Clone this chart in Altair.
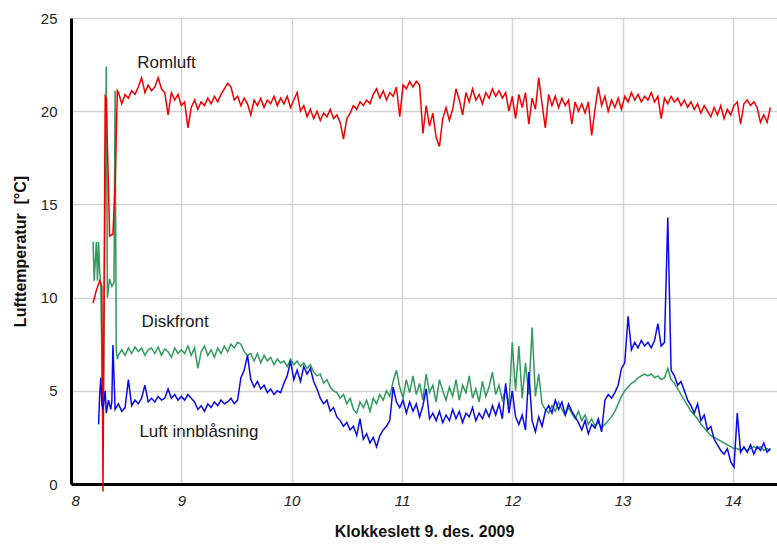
import altair as alt
import pandas as pd

# ---- main time grid (hours), step 0.03 h from 8.43 to 14.34 ----
grid_start = 8.43
grid_step = 0.03
n_grid = 198

# ---- early start-up segments (explicit times) ----
red_early_t = [8.20, 8.23, 8.26, 8.28, 8.29, 8.31, 8.32, 8.35, 8.38, 8.40, 8.42]
red_early_v = [9.7, 10.4, 10.9, 10.6, -0.4, 20.8, 20.7, 13.3, 13.4, 16.0, 21.1]

green_early_t = [8.20, 8.21, 8.23, 8.24, 8.25, 8.26, 8.27, 8.29, 8.32, 8.33, 8.35, 8.37, 8.39, 8.40, 8.41, 8.42]
green_early_v = [13.0, 10.9, 13.0, 10.9, 13.0, 11.4, 10.7, 2.5, 22.4, 10.0, 11.0, 10.6, 10.8, 21.1, 7.2, 6.7]

blue_early_t = [8.25, 8.26, 8.27, 8.28, 8.29, 8.31, 8.32, 8.34, 8.36, 8.37, 8.38, 8.40, 8.42]
blue_early_v = [3.2, 4.8, 5.7, 4.3, 4.0, 5.0, 3.8, 4.5, 4.0, 4.4, 7.45, 4.0, 4.2]

# ---- Romluft (red) ----
romluft = [
    21.0, 20.4, 20.9, 20.7, 21.1, 20.9, 21.3, 21.8, 21.0, 21.4,
    21.1, 21.3, 21.8, 21.2, 21.0, 19.8, 21.0, 20.6, 20.9, 20.3,
    20.5, 19.1, 20.2, 20.6, 20.1, 20.5, 20.3, 20.7, 20.4, 20.8,
    20.5, 20.9, 21.2, 21.5, 21.3, 20.6, 20.8, 20.3, 20.7, 20.4,
    19.8, 20.6, 20.3, 20.7, 20.2, 20.6, 20.4, 20.8, 20.3, 20.7,
    20.4, 20.8, 20.2, 20.6, 21.0, 20.0, 20.3, 19.7, 20.1, 19.6,
    20.0, 19.5, 19.9, 19.7, 20.1, 19.6, 19.8, 19.4, 18.5, 19.6,
    19.9, 20.3, 20.1, 20.5, 20.3, 20.6, 20.4, 20.9, 21.2, 20.7,
    21.1, 20.6, 21.0, 20.8, 21.3, 19.7, 21.4, 21.2, 21.6, 21.3,
    21.6, 21.4, 18.8, 20.3, 19.2, 19.9, 18.6, 18.1, 19.6, 20.2,
    19.5, 20.1, 21.2, 20.6, 19.8, 21.0, 20.5, 21.2, 20.6, 20.9,
    20.4, 21.0, 20.7, 21.2, 20.8, 21.1, 20.7, 21.0, 20.0, 20.8,
    19.6, 20.9, 20.2, 21.0, 19.3, 20.7, 20.1, 21.8, 20.4, 19.1,
    20.9, 20.3, 20.8, 20.2, 20.7, 20.3, 20.6, 19.3, 20.5, 20.0,
    20.4, 19.9, 20.5, 18.7, 20.1, 21.3, 20.3, 20.8, 20.0, 20.6,
    20.2, 20.7, 20.1, 20.8, 20.5, 21.0, 20.6, 20.9, 20.5, 20.8,
    20.6, 21.0, 20.5, 20.8, 19.6, 20.7, 20.4, 20.8, 20.5, 20.7,
    20.3, 20.6, 20.2, 20.5, 20.1, 20.4, 19.9, 20.3, 20.0, 19.7,
    20.2, 19.8, 20.3, 19.6, 20.1, 19.8, 20.3, 20.5, 19.3, 20.4,
    20.6, 20.3, 20.5, 20.2, 19.4, 19.8, 19.4, 20.2,
]

# ---- Diskfront (green) ----
diskfront = [
    6.9, 7.2, 6.9, 7.3, 7.0, 7.35, 7.1, 7.3, 6.9, 7.2,
    7.3, 7.0, 7.35, 6.9, 7.25, 7.1, 6.8, 7.3, 7.0, 7.2,
    7.0, 7.4, 6.9, 7.3, 6.2, 7.1, 7.4, 6.9, 7.2, 6.8,
    7.3, 7.0, 7.4, 7.1, 7.5, 7.3, 7.6, 7.5, 7.1, 6.9,
    7.0, 6.6, 7.0, 6.5, 6.9, 6.6, 6.8, 6.4, 6.7, 6.5,
    6.6, 6.3, 6.7, 6.4, 6.6, 6.3, 6.5, 6.2, 6.4, 6.0,
    5.8, 5.9, 5.4, 5.6, 5.2, 5.0, 4.9, 4.6, 4.8, 4.3,
    4.6, 4.0, 3.8, 4.4, 4.1, 4.5, 3.9, 4.6, 4.3, 4.8,
    4.5, 5.0, 4.7, 5.5, 6.1, 5.2, 4.6, 5.6, 4.9, 5.8,
    4.8, 5.4, 4.5, 5.9, 4.9, 5.3, 4.4, 5.6, 5.0, 4.5,
    5.2, 4.7, 5.6, 4.5, 5.3, 4.9, 5.8, 4.6, 5.1, 4.4,
    5.5, 4.7, 5.2, 6.0, 4.8, 5.3, 4.5, 5.1, 4.2, 7.6,
    5.0, 7.4, 4.6, 6.5, 4.8, 8.4, 4.7, 5.9, 4.3, 4.0,
    3.8, 4.2, 3.9, 4.4, 4.0, 3.7, 4.1, 3.8, 3.5, 3.9,
    3.4, 3.7, 3.2, 3.5, 3.1, 3.3, 3.0, 3.2, 3.4, 3.6,
    3.9, 4.3, 4.7, 5.0, 5.2, 5.4, 5.5, 5.7, 5.8, 5.9,
    5.8, 5.9, 5.7, 5.8, 5.6, 5.7, 6.2, 5.6, 5.4, 5.1,
    4.8, 4.5, 4.2, 3.9, 3.7, 3.5, 3.2, 3.0, 2.8, 2.6,
    2.5, 2.4, 2.3, 2.2, 2.1, 2.0, 1.9, 1.9, 1.8, 1.9,
    1.8, 1.9, 2.0, 1.9, 2.0, 1.8, 1.9, 1.8,
]

# ---- Luft innblåsning (blue) ----
innblasning = [
    4.3, 3.9, 4.1, 5.6, 4.2, 4.5, 4.3, 4.6, 5.3, 4.4,
    4.6, 4.4, 4.7, 4.5, 4.6, 5.1, 4.6, 4.8, 4.5, 4.7,
    4.5, 4.8, 4.6, 4.4, 4.0, 4.2, 3.9, 4.3, 4.1, 4.4,
    4.2, 4.5, 4.3, 4.4, 4.6, 4.3, 4.5, 5.7, 6.1, 6.9,
    5.6, 5.2, 5.5, 5.1, 5.3, 4.9, 5.1, 4.8, 5.0, 4.9,
    5.4, 5.8, 6.6, 5.6, 6.1, 5.5, 6.3, 5.9, 6.2, 5.5,
    5.1, 4.6, 4.3, 4.5, 3.9, 4.1, 3.6, 3.4, 3.1, 3.3,
    2.9, 3.1, 2.6, 3.5, 2.4, 2.7, 2.2, 2.5, 2.0, 2.6,
    2.9, 3.1, 3.4, 5.2, 4.4, 4.1, 4.5, 3.8, 4.4, 3.9,
    4.3, 3.6, 4.2, 5.1, 3.5, 3.8, 3.4, 3.9, 3.3, 3.7,
    3.4, 4.0, 3.5, 3.9, 3.3, 3.8, 3.6, 4.1, 3.4, 3.8,
    3.5, 4.0, 3.6, 4.2, 3.7, 4.3, 3.5, 5.4, 3.8, 5.0,
    3.6, 3.2, 3.7, 2.9, 6.0, 3.4, 2.8, 3.6, 3.1, 3.9,
    4.2, 3.8, 4.5, 4.0, 4.4, 3.7, 4.3, 3.9, 3.6, 3.3,
    2.9, 3.4, 2.7, 3.2, 3.0, 3.5, 2.8, 4.5, 4.8, 4.6,
    4.9, 5.3, 6.2, 6.5, 9.0, 7.2, 7.6, 7.3, 7.7, 7.4,
    7.6, 7.3, 7.7, 8.6, 7.4, 7.6, 14.3, 6.1, 5.8, 5.3,
    5.5, 5.0, 4.5, 4.2, 3.8, 4.3, 3.4, 3.7, 2.9, 3.1,
    2.4, 2.1, 1.8, 1.6, 1.9, 1.2, 0.9, 3.8, 1.7, 2.0,
    1.7, 2.1, 1.6, 2.0, 1.8, 2.2, 1.7, 1.9,
]

series_names = ["Diskfront", "Romluft", "Luft innblåsning"]
series_colors = ["#2f9a5c", "#f20000", "#0a0ae8"]

x_ticks = [8, 9, 10, 11, 12, 13, 14]
y_ticks = [0, 5, 10, 15, 20, 25]

label_texts = ["Romluft", "Diskfront", "Luft innblåsning"]
label_t = [8.6, 8.64, 8.62]
label_v = [22.6, 8.7, 2.8]

grid_t = [round(grid_start + grid_step * i, 4) for i in range(n_grid)]

rows = []
def add(name, ts, vs):
    for t, v in zip(ts, vs):
        rows.append({"series": name, "t": t, "v": v, "idx": len(rows)})

add("Diskfront", green_early_t + grid_t, green_early_v + diskfront)
add("Romluft", red_early_t + grid_t, red_early_v + romluft)
add("Luft innblåsning", blue_early_t + grid_t, blue_early_v + innblasning)
df = pd.DataFrame(rows)

labels_df = pd.DataFrame({"text": label_texts, "t": label_t, "v": label_v})

x_scale = alt.Scale(domain=[8, 14.4], nice=False, zero=False)
y_scale = alt.Scale(domain=[0, 25], nice=False)

lines = alt.Chart(df).mark_line(strokeWidth=1.5).encode(
    x=alt.X("t:Q", scale=x_scale,
            axis=alt.Axis(values=x_ticks, format="d", title="Klokkeslett 9. des. 2009",
                          labelFontStyle="italic", labelFontSize=15,
                          labelFont="Liberation Sans", labelColor="#222",
                          labelPadding=9, ticks=False,
                          domainColor="black", domainWidth=3,
                          gridColor="#d3d3d3", gridWidth=1.5,
                          titleFont="Liberation Sans", titleFontSize=16,
                          titleFontWeight="bold", titleColor="#111",
                          titlePadding=15)),
    y=alt.Y("v:Q", scale=y_scale,
            axis=alt.Axis(values=y_ticks, title="Lufttemperatur\u00a0\u00a0[°C]",
                          labelFontSize=15, labelFont="Liberation Sans",
                          labelColor="#222", labelPadding=14, ticks=False,
                          domainColor="black", domainWidth=3,
                          gridColor="#d3d3d3", gridWidth=1.5,
                          titleFont="Liberation Sans", titleFontSize=16,
                          titleFontWeight="bold", titleColor="#111",
                          titlePadding=12)),
    color=alt.Color("series:N", scale=alt.Scale(domain=series_names, range=series_colors), legend=None),
    detail="series:N",
    order="idx:Q",
)

texts = alt.Chart(labels_df).mark_text(
    align="left", baseline="middle", fontSize=17, font="Liberation Sans", color="#1a1a1a"
).encode(
    x=alt.X("t:Q", scale=x_scale),
    y=alt.Y("v:Q", scale=y_scale),
    text="text:N",
)

chart = alt.layer(lines, texts).properties(
    width=706, height=466,
    autosize=alt.AutoSizeParams(type="none"),
    padding={"left": 71, "top": 18, "right": 0, "bottom": 66},
).configure_view(stroke="black", strokeWidth=2).configure(background="white")

chart.save("out.html", embed_options={"renderer": "svg", "actions": False})
